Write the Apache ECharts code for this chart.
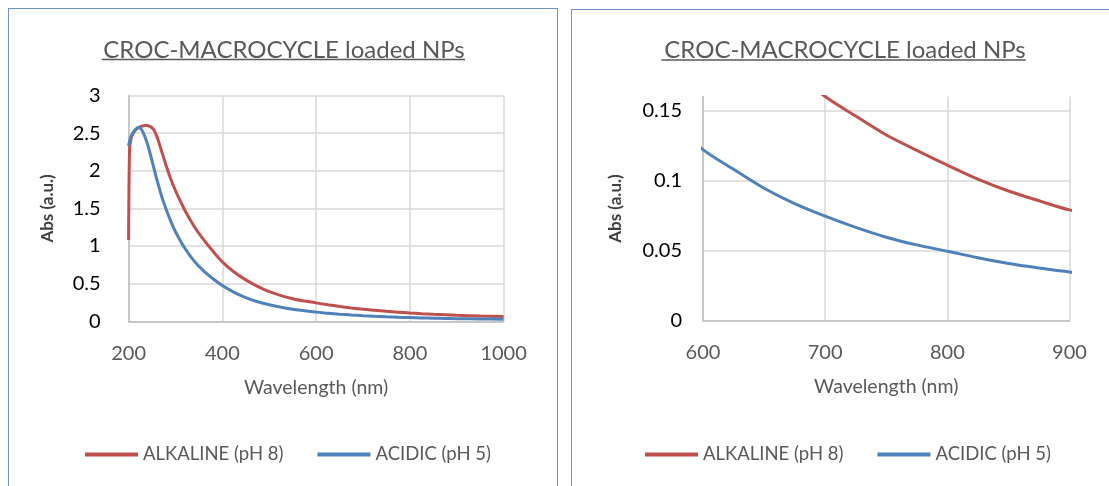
<!DOCTYPE html>
<html>
<head>
<meta charset="utf-8">
<script src="https://cdn.jsdelivr.net/npm/echarts@6/dist/echarts.min.js"></script>
<style>
  html, body { margin: 0; padding: 0; background: #fff; overflow: hidden; }
  #wrap { position: relative; width: 1109px; height: 486px; overflow: hidden; }
  .panel { position: absolute; border: 1px solid #6d93c9; box-sizing: border-box; }
  #p1 { left: 8px; top: 8px; width: 550px; height: 500px; }
  #p2 { left: 571px; top: 9px; width: 560px; height: 500px; }
  #chart { position: absolute; left: 0; top: 0; width: 1109px; height: 486px; }
</style>
</head>
<body>
<div id="wrap">
  <div class="panel" id="p1"></div>
  <div class="panel" id="p2"></div>
  <div id="chart"></div>
</div>
<script>
// ---- data ----
const titleText = 'CROC-MACROCYCLE loaded NPs';
const xName = 'Wavelength (nm)';
const yName = 'Abs (a.u.)';
const seriesNames = ['ALKALINE (pH 8)', 'ACIDIC (pH 5)'];
const wavelength = [200, 202, 205, 210, 215, 220, 225, 230, 235, 240, 245, 250, 255, 260, 265, 270, 280, 290, 300, 320, 340, 360, 380, 400, 425, 450, 475, 500, 550, 600, 625, 650, 675, 700, 725, 750, 775, 800, 825, 850, 875, 900, 950, 1000];
const alkaline = [1.08, 2.28, 2.42, 2.50, 2.54, 2.57, 2.585, 2.595, 2.60, 2.60, 2.59, 2.57, 2.53, 2.46, 2.37, 2.27, 2.07, 1.89, 1.735, 1.475, 1.26, 1.085, 0.93, 0.79, 0.655, 0.55, 0.465, 0.395, 0.30, 0.245, 0.22, 0.198, 0.178, 0.160, 0.146, 0.1325, 0.1215, 0.111, 0.101, 0.0925, 0.0855, 0.079, 0.070, 0.063];
const acidic = [2.33, 2.39, 2.45, 2.51, 2.55, 2.575, 2.565, 2.52, 2.45, 2.36, 2.25, 2.13, 2.01, 1.89, 1.78, 1.67, 1.49, 1.33, 1.19, 0.97, 0.80, 0.67, 0.565, 0.475, 0.385, 0.315, 0.26, 0.22, 0.16, 0.122, 0.108, 0.0945, 0.0835, 0.0745, 0.0665, 0.0595, 0.054, 0.0495, 0.0448, 0.0407, 0.0375, 0.0347, 0.031, 0.028];
const leftYTicks = [0, 0.5, 1, 1.5, 2, 2.5, 3];
const leftXTicks = [200, 400, 600, 800, 1000];
const rightYTicks = [0, 0.05, 0.1, 0.15];
const rightXTicks = [600, 700, 800, 900];

const colors = ['#C0504D', '#4F81BD'];
const FONT = 'Lato, "Liberation Sans", sans-serif';
const pairs = (ys) => wavelength.map((w, i) => [w, ys[i]]);

const chart = echarts.init(document.getElementById('chart'), null, { renderer: 'canvas' });

function xAxisCfg(grid, ticks, labelMargin) {
  return {
    type: 'value', gridIndex: grid,
    min: ticks[0], max: ticks[ticks.length - 1], interval: ticks[1] - ticks[0],
    name: xName, nameLocation: 'middle', nameGap: 56,
    nameTextStyle: { color: '#595959', fontSize: 19.5, fontFamily: FONT },
    axisLine: { show: true, lineStyle: { color: '#bfbfbf', width: 1.5 } },
    axisTick: { show: false },
    axisLabel: { color: '#595959', fontSize: 20, fontFamily: FONT, margin: labelMargin, formatter: v => String(v) },
    splitLine: { show: true, lineStyle: { color: '#d9d9d9', width: 1.5 } }
  };
}
function yAxisCfg(grid, ticks, max, labelMargin, nameGap) {
  const last = ticks[ticks.length - 1];
  return {
    type: 'value', gridIndex: grid,
    min: ticks[0], max: max, interval: ticks[1] - ticks[0],
    name: yName, nameLocation: 'middle', nameGap: nameGap, nameRotate: 90,
    nameTextStyle: { color: '#404040', fontSize: 17, fontWeight: 'bold', fontFamily: FONT },
    axisLine: { show: true, lineStyle: { color: '#bfbfbf', width: 1.5 } },
    axisTick: { show: false },
    axisLabel: { color: '#000', fontSize: 20, fontFamily: FONT, margin: labelMargin, showMaxLabel: max === last },
    splitLine: { show: true, showMaxLine: max === last, lineStyle: { color: '#d9d9d9', width: 1.5 } }
  };
}
function lineSeries(name, ys, idx, axisIdx) {
  return {
    type: 'line', name: name, data: pairs(ys),
    xAxisIndex: axisIdx, yAxisIndex: axisIdx,
    symbol: 'none', smooth: 0.3, clip: true,
    lineStyle: { color: colors[idx], width: 3 }, itemStyle: { color: colors[idx] }
  };
}

const option = {
  animation: false,
  textStyle: { fontFamily: FONT },
  title: [
    { text: titleText, left: 279, top: 33, textAlign: 'center',
      textStyle: { color: '#595959', fontSize: 24, fontWeight: 'normal', fontFamily: FONT } },
    { text: titleText, left: 840, top: 33, textAlign: 'center',
      textStyle: { color: '#595959', fontSize: 24, fontWeight: 'normal', fontFamily: FONT } }
  ],
  legend: [
    { data: seriesNames, left: 85, top: 445, padding: 0, itemWidth: 53, itemHeight: 4, itemGap: 34, icon: 'rect',
      textStyle: { color: '#595959', fontSize: 18.5, fontFamily: FONT }, selectedMode: false },
    { data: seriesNames.slice(), left: 645, top: 445, padding: 0, itemWidth: 53, itemHeight: 4, itemGap: 34, icon: 'rect',
      textStyle: { color: '#595959', fontSize: 18.5, fontFamily: FONT }, selectedMode: false }
  ],
  grid: [
    { left: 128.6, top: 95.5, width: 375, height: 225.8 },
    { left: 703, top: 96.5, width: 366.5, height: 224 }
  ],
  xAxis: [ xAxisCfg(0, leftXTicks, 22), xAxisCfg(1, rightXTicks, 22) ],
  yAxis: [ yAxisCfg(0, leftYTicks, 3, 28, 73), yAxisCfg(1, rightYTicks, 0.16, 21, 79) ],
  series: [
    lineSeries(seriesNames[0], alkaline, 0, 0),
    lineSeries(seriesNames[1], acidic, 1, 0),
    lineSeries(seriesNames[0], alkaline, 0, 1),
    lineSeries(seriesNames[1], acidic, 1, 1)
  ],
  graphic: [
    { type: 'line', shape: { x1: 101.7, y1: 59.5, x2: 465, y2: 59.5 }, style: { stroke: '#595959', lineWidth: 1.3 }, silent: true },
    { type: 'line', shape: { x1: 661.5, y1: 60, x2: 1025.7, y2: 60 }, style: { stroke: '#595959', lineWidth: 1.3 }, silent: true }
  ]
};
chart.setOption(option);
</script>
</body>
</html>
